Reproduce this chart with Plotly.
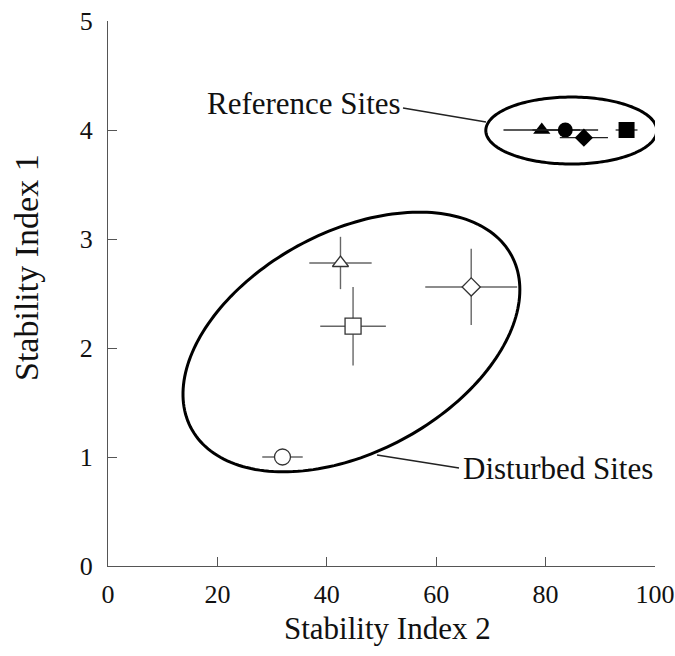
import numpy as np
import plotly.graph_objects as go

# ---------------- data ----------------
ref_x = [79.3, 83.6, 87.0, 94.8]
ref_y = [4.00, 4.00, 3.93, 4.00]
ref_xerr = [7.0, 6.0, 4.4, 2.0]
ref_symbols = ["triangle-up", "circle", "diamond", "square"]
ref_sizes = [15, 15, 14, 16]

dist_x = [42.5, 44.8, 66.4, 31.9]
dist_y = [2.78, 2.20, 2.56, 1.00]
dist_xerr = [5.7, 6.0, 8.4, 3.7]
dist_yerr = [0.24, 0.36, 0.35, 0.0]
dist_symbols = ["triangle-up", "square", "diamond", "circle"]
dist_sizes = [14, 16, 14, 16]

x_ticks = [0, 20, 40, 60, 80, 100]
y_ticks = [0, 1, 2, 3, 4, 5]

# ---------------- layout geometry ----------------
W, H = 675, 656
ML, MR, MT, MB = 108, 20, 21, 90
PW, PH = W - ML - MR, H - MT - MB
XR, YR = (0, 100), (0, 5)
sx = PW / (XR[1] - XR[0])  # px per x-unit
sy = PH / (YR[1] - YR[0])  # px per y-unit

FONT = "Liberation Serif, Times New Roman, serif"


def ellipse_path(cx, cy, a_px, b_px, theta_deg, n=200):
    th = np.deg2rad(theta_deg)
    t = np.linspace(0, 2 * np.pi, n)
    dx = a_px * np.cos(th) * np.cos(t) - b_px * np.sin(th) * np.sin(t)
    dy = a_px * np.sin(th) * np.cos(t) + b_px * np.cos(th) * np.sin(t)
    xs = cx + dx / sx
    ys = cy + dy / sy
    p = "M " + " L ".join(f"{x:.4f},{y:.5f}" for x, y in zip(xs, ys)) + " Z"
    return p


fig = go.Figure()

for i in range(len(dist_x)):
    fig.add_trace(go.Scatter(
        x=[dist_x[i]], y=[dist_y[i]], mode="markers",
        marker=dict(symbol=dist_symbols[i], size=dist_sizes[i], color="white",
                    line=dict(color="#333", width=1.3)),
        error_x=dict(type="data", array=[dist_xerr[i]], color="#666", thickness=1.4, width=0),
        error_y=dict(type="data", array=[dist_yerr[i]], color="#666", thickness=1.4, width=0,
                     visible=dist_yerr[i] > 0),
        showlegend=False, cliponaxis=False,
    ))

for i in range(len(ref_x)):
    fig.add_trace(go.Scatter(
        x=[ref_x[i]], y=[ref_y[i]], mode="markers",
        marker=dict(symbol=ref_symbols[i], size=ref_sizes[i], color="black",
                    line=dict(color="black", width=0)),
        error_x=dict(type="data", array=[ref_xerr[i]], color="#222", thickness=1.3, width=0),
        showlegend=False, cliponaxis=False,
    ))

shapes = [
    dict(type="path", xref="x", yref="y",
         path=ellipse_path(84.7, 3.995, 85.5, 33.5, 0), line=dict(color="black", width=3)),
    dict(type="path", xref="x", yref="y",
         path=ellipse_path(44.5, 2.055, 182, 110, 28.4), line=dict(color="black", width=3)),
]


def px2paper(px, py):
    return (px - ML) / PW, (H - MB - py) / PH


# leader lines
for (x0, y0), (x1, y1) in [((403, 108), (486, 122)), ((377, 455), (459, 468))]:
    a, b = px2paper(x0, y0)
    c, d = px2paper(x1, y1)
    shapes.append(dict(type="line", xref="paper", yref="paper", x0=a, y0=b, x1=c, y1=d,
                       line=dict(color="#222", width=1.4)))

annotations = []
for text, (px, py) in [("Reference Sites", (304, 104)), ("Disturbed Sites", (558, 468))]:
    a, b = px2paper(px, py)
    annotations.append(dict(text=text, x=a, y=b, xref="paper", yref="paper", showarrow=False,
                            xanchor="center", yanchor="middle",
                            font=dict(family=FONT, size=31, color="#111")))

a, b = px2paper(387, 628)
annotations.append(dict(text="Stability Index 2", x=a, y=b, xref="paper", yref="paper",
                        showarrow=False, xanchor="center", yanchor="middle",
                        font=dict(family=FONT, size=31, color="#111")))
a, b = px2paper(26, 268)
annotations.append(dict(text="Stability Index 1", x=a, y=b, xref="paper", yref="paper",
                        showarrow=False, xanchor="center", yanchor="middle", textangle=-90,
                        font=dict(family=FONT, size=34, color="#111")))

axis_common = dict(showgrid=False, zeroline=False, showline=True, linecolor="#555", linewidth=1.2,
                   ticks="inside", ticklen=9, tickwidth=1.2, tickcolor="#555", automargin=False,
                   tickfont=dict(family=FONT, size=26, color="#111"))

fig.update_layout(
    width=W, height=H,
    margin=dict(l=ML, r=MR, t=MT, b=MB, autoexpand=False),
    paper_bgcolor="white", plot_bgcolor="white",
    xaxis=dict(range=list(XR), tickvals=x_ticks, ticktext=[str(v) for v in x_ticks],
               ticklabelstandoff=5, **axis_common),
    yaxis=dict(range=list(YR), tickvals=y_ticks, ticktext=[str(v) for v in y_ticks],
               ticklabelstandoff=9, **axis_common),
    shapes=shapes, annotations=annotations,
)

fig.write_html("out.html")
